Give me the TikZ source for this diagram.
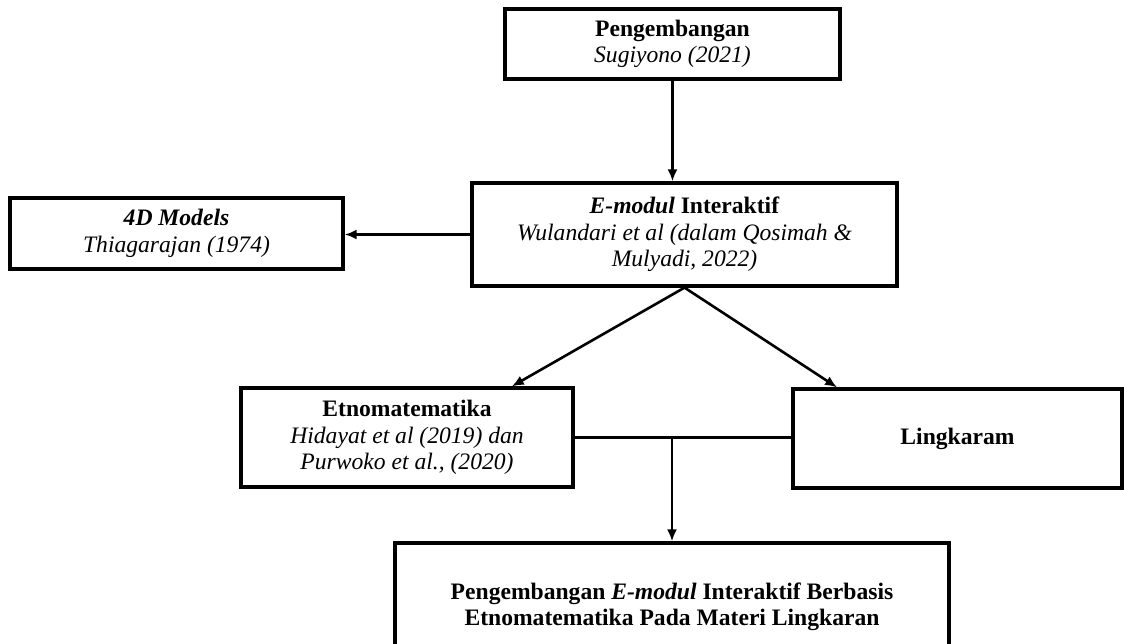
\documentclass[tikz,border=0pt]{standalone}
\usepackage{fontspec}
\setmainfont{Liberation Serif}
\usetikzlibrary{arrows.meta}
\begin{document}
\begin{tikzpicture}[x=1pt, y=-1pt,
	box/.style={rectangle, draw, line width=3.2pt, inner sep=0pt, align=center, font=\fontsize{23.6}{26.5}\selectfont},
	arr/.style={-{Latex[length=12pt,width=10pt]}, line width=2.6pt}]
	\useasboundingbox (0,0) rectangle (1124,643);
	\node (peng) at (672.5,44) [box, minimum width=335pt, minimum height=70pt] {\textbf{Pengembangan}\\\textit{Sugiyono (2021)}};
	\node (emodul) at (684.5,234.5) [box, minimum width=425pt, minimum height=103pt] {\textbf{\textit{E-modul} Interaktif}\\\textit{Wulandari et al (dalam Qosimah \&}\\\textit{Mulyadi, 2022)}};
	\node (model4d) at (176.5,233.5) [box, minimum width=333pt, minimum height=71pt] {\textbf{\textit{4D Models}}\\\textit{Thiagarajan (1974)}};
	\node (etno) at (407,437.5) [box, minimum width=332pt, minimum height=99pt] {\textbf{Etnomatematika}\\\textit{Hidayat et al (2019) dan}\\\textit{Purwoko et al., (2020)}};
	\node (lingk) at (957.5,438.5) [box, minimum width=329pt, minimum height=99pt] {\textbf{Lingkaram}};
	\node (hasil) at (672,607) [box, minimum width=554pt, minimum height=128pt] {\textbf{Pengembangan \textit{E-modul} Interaktif Berbasis}\\\textbf{Etnomatematika Pada Materi Lingkaran}};
	\draw [arr] (peng.south) -- (peng.south |- emodul.north);
	\draw [arr] (emodul.west) -- (emodul.west -| model4d.east);
	\draw [arr] (emodul.south) -- (etno.26);
	\draw [arr] (emodul.south) -- (lingk.157);
	\draw [line width=2.6pt] (etno.east) -- (etno.east -| lingk.west);
	\draw [arr] (etno.east -| hasil.north) -- (hasil.north);
\end{tikzpicture}
\end{document}
